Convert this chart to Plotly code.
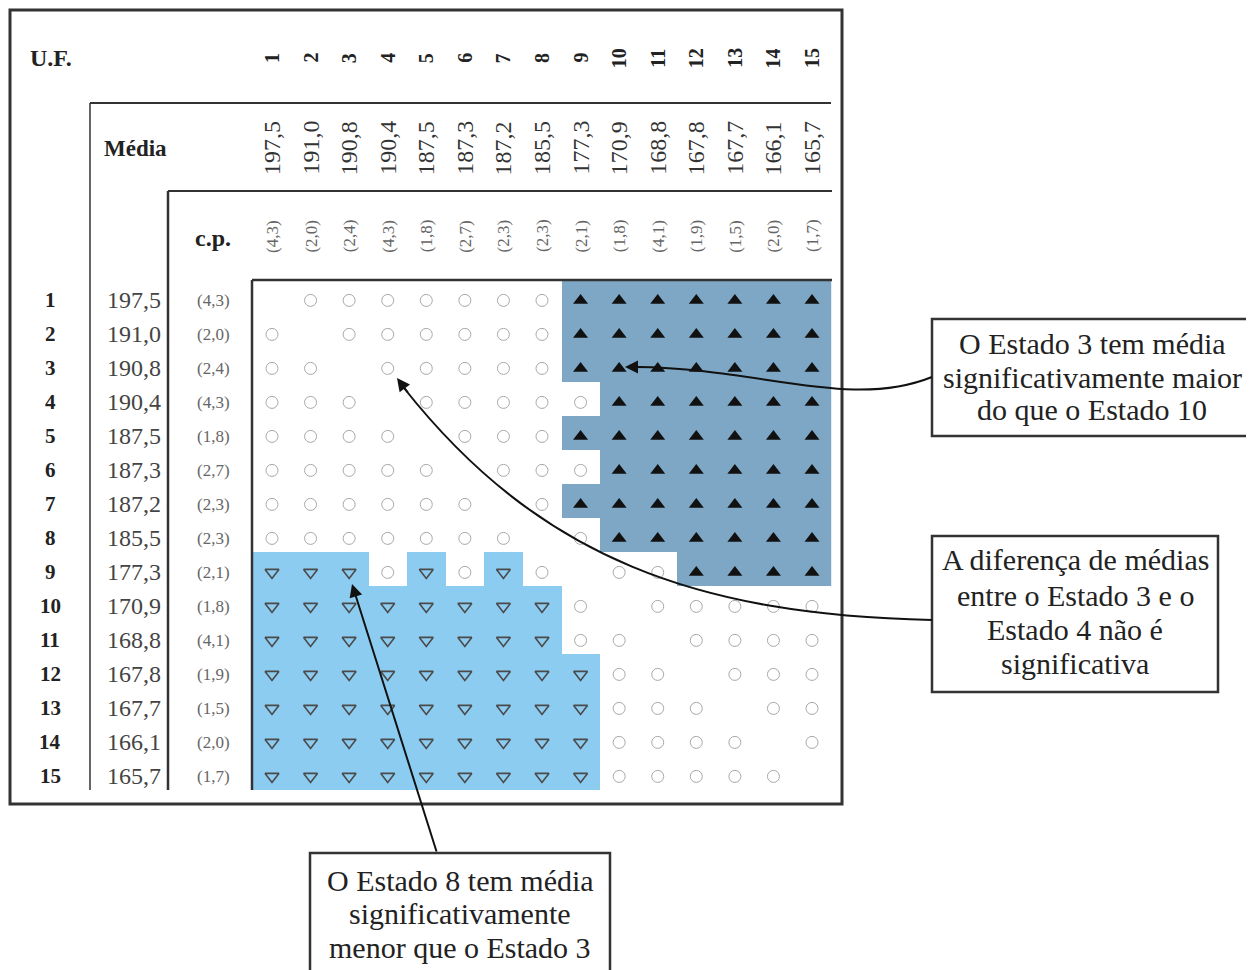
import plotly.graph_objects as go

# page offset: the browser places the figure 8px from the top-left corner
OFF = 8
W, H = 1254 - OFF, 970 - OFF

# ---------------- data ----------------
states = list(range(1, 16))
means = [197.5, 191.0, 190.8, 190.4, 187.5, 187.3, 187.2, 185.5,
         177.3, 170.9, 168.8, 167.8, 167.7, 166.1, 165.7]
cp = [4.3, 2.0, 2.4, 4.3, 1.8, 2.7, 2.3, 2.3, 2.1, 1.8, 4.1, 1.9, 1.5, 2.0, 1.7]
# '^' row mean significantly greater than column, 'v' significantly smaller,
# 'o' not significant, '-' diagonal
comparison = [
    "-ooooooo^^^^^^^",
    "o-oooooo^^^^^^^",
    "oo-ooooo^^^^^^^",
    "ooo-ooooo^^^^^^",
    "oooo-ooo^^^^^^^",
    "ooooo-ooo^^^^^^",
    "oooooo-o^^^^^^^",
    "ooooooo-o^^^^^^",
    "vvvovovo-oo^^^^",
    "vvvvvvvvo-ooooo",
    "vvvvvvvvoo-oooo",
    "vvvvvvvvvoo-ooo",
    "vvvvvvvvvooo-oo",
    "vvvvvvvvvoooo-o",
    "vvvvvvvvvooooo-",
]
note1 = ["O Estado 3 tem média", "significativamente maior", "do que o Estado 10"]
note2 = ["A diferença de médias", "entre o Estado 3 e o", "Estado 4 não é", "significativa"]
note3 = ["O Estado 8 tem média", "significativamente", "menor que o Estado 3"]

FONT = "Liberation Serif"
DARK_BG = "#7DA7C5"
LIGHT_BG = "#8DCCF1"
SHIFT = 0.1  # markers/labels sit slightly below cell centres in the original


def px(x):
    return (x - OFF) / W


def py(y):
    return 1 - (y - OFF) / H


def fmt(v):
    return f"{v:.1f}".replace(".", ",")


fig = go.Figure()

# background cells
zmap = {"^": 1, "v": -1}
z = [[zmap.get(c) for c in row] for row in comparison]
fig.add_trace(go.Heatmap(
    z=z, x=states, y=states,
    zmin=-1, zmax=1,
    colorscale=[[0, LIGHT_BG], [0.5, LIGHT_BG], [0.5, DARK_BG], [1, DARK_BG]],
    showscale=False, hoverinfo="skip", xgap=0, ygap=0,
))

# markers
styles = {
    "o": dict(symbol="circle-open", size=12, color="#A8A8A8", line=dict(width=1, color="#A8A8A8")),
    "^": dict(symbol="triangle-up", size=13, color="#111111", line=dict(width=0)),
    "v": dict(symbol="triangle-down-open", size=12, color="#4A4A4A", line=dict(width=1.6, color="#4A4A4A")),
}
for key, st in styles.items():
    xs, ys = [], []
    for i, row in enumerate(comparison):
        for j, c in enumerate(row):
            if c == key:
                xs.append(states[j])
                ys.append(states[i] + SHIFT)
    fig.add_trace(go.Scatter(x=xs, y=ys, mode="markers", marker=st,
                             hoverinfo="skip", showlegend=False))

ann = []


def A(**kw):
    kw.setdefault("showarrow", False)
    kw.setdefault("xanchor", "center")
    kw.setdefault("yanchor", "middle")
    ann.append(kw)


# column headers
for k, s in enumerate(states):
    A(x=s, xref="x", y=py(58), yref="paper", text=f"<b>{s}</b>", textangle=-90,
      font=dict(family=FONT, size=20, color="#222"))
    A(x=s, xref="x", y=py(148), yref="paper", text=fmt(means[k]), textangle=-90,
      font=dict(family=FONT, size=24, color="#333"))
    A(x=s, xref="x", y=py(236), yref="paper", text=f"({fmt(cp[k])})", textangle=-90,
      font=dict(family=FONT, size=17, color="#666"))
# row headers
for k, s in enumerate(states):
    yy = s + SHIFT
    A(x=px(50), xref="paper", y=yy, yref="y", text=f"<b>{s}</b>",
      font=dict(family=FONT, size=21, color="#222"))
    A(x=px(134), xref="paper", y=yy, yref="y", text=fmt(means[k]),
      font=dict(family=FONT, size=24, color="#444"))
    A(x=px(213), xref="paper", y=yy, yref="y", text=f"({fmt(cp[k])})",
      font=dict(family=FONT, size=17, color="#666"))
# titles
A(x=px(51), y=py(58), xref="paper", yref="paper", text="<b>U.F.</b>",
  font=dict(family=FONT, size=24, color="#222"))
A(x=px(135), y=py(148), xref="paper", yref="paper", text="<b>Média</b>",
  font=dict(family=FONT, size=23, color="#222"))
A(x=px(213), y=py(238), xref="paper", yref="paper", text="<b>c.p.</b>",
  font=dict(family=FONT, size=24, color="#222"))


# note boxes text
def note(lines, cx, ys):
    for t, yv in zip(lines, ys):
        A(x=px(cx), y=py(yv), xref="paper", yref="paper", text=t,
          font=dict(family=FONT, size=30, color="#222"))


note(note1, 1092, [343, 377, 409])
note(note2, 1075, [559, 595, 629, 663])
note(note3, 460, [880, 913, 947])

# arrowheads
A(x=px(625), y=py(367), xref="paper", yref="paper", ax=20, ay=0, text="",
  showarrow=True, arrowhead=2, arrowsize=1.3, arrowwidth=2, arrowcolor="#111")
A(x=px(397), y=py(378), xref="paper", yref="paper", ax=12, ay=16, text="",
  showarrow=True, arrowhead=2, arrowsize=1.3, arrowwidth=2, arrowcolor="#111")
A(x=px(352), y=py(584), xref="paper", yref="paper", ax=85, ay=269, text="",
  showarrow=True, arrowhead=2, arrowsize=1.3, arrowwidth=2, arrowcolor="#111")

shapes = []


def line(x0, y0, x1, y1, w=2, c="#333"):
    shapes.append(dict(type="line", xref="paper", yref="paper", x0=px(x0), y0=py(y0),
                       x1=px(x1), y1=py(y1), line=dict(width=w, color=c)))


def rect(x0, y0, x1, y1, w=2, c="#333"):
    shapes.append(dict(type="rect", xref="paper", yref="paper", x0=px(x0), y0=py(y0),
                       x1=px(x1), y1=py(y1), line=dict(width=w, color=c)))


rect(10, 10, 842, 804, 3, "#333")
line(90, 103, 831, 103, 2)
line(90, 103, 90, 790, 1.5)
line(168, 191, 832, 191, 2)
line(168, 191, 168, 790, 2.5)
line(252, 280, 832, 280, 2.5)
line(252, 280, 252, 790, 2.5)

rect(932, 319, 1251, 436, 2.5)
rect(932, 536, 1218, 692, 2.5)
rect(310, 853, 610, 985, 2.5)


def path(pts):
    s = f"M {px(pts[0][0])},{py(pts[0][1])} C " + " ".join(f"{px(a)},{py(b)}" for a, b in pts[1:])
    shapes.append(dict(type="path", xref="paper", yref="paper", path=s,
                       line=dict(width=2, color="#111")))


path([(932, 377), (850, 410), (760, 368), (636, 367)])
path([(932, 620), (700, 615), (540, 560), (404, 388)])

fig.update_layout(
    width=W, height=H, margin=dict(l=0, r=0, t=0, b=0),
    paper_bgcolor="white", plot_bgcolor="rgba(0,0,0,0)",
    showlegend=False,
    xaxis=dict(domain=[px(252.7), px(831.3)], range=[0.5, 15.5], visible=False, fixedrange=True),
    yaxis=dict(domain=[py(790), py(280)], range=[15.5, 0.5], visible=False, fixedrange=True),
    annotations=ann, shapes=shapes,
)

fig.write_html("out.html")
